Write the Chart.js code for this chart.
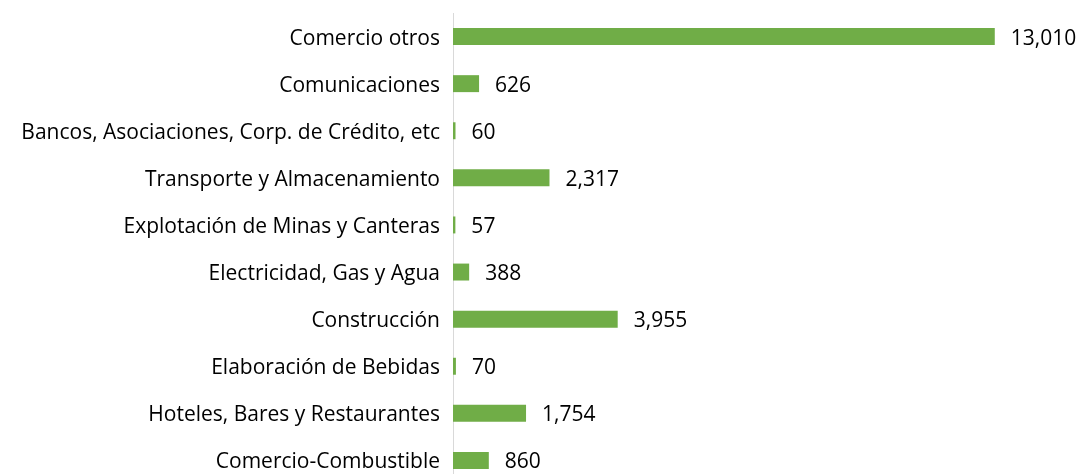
<!DOCTYPE html>
<html>
<head>
<meta charset="utf-8">
<script src="https://cdn.jsdelivr.net/npm/chart.js@4/dist/chart.umd.min.js"></script>
<style>
  html, body { margin: 0; padding: 0; background: #fff; overflow: hidden; }
  #wrap { width: 1078px; height: 490px; }
</style>
</head>
<body>
<div id="wrap"><canvas id="chart" width="1078" height="490"></canvas></div>
<script>
// --- DATA ---
const categories = [
    'Comercio otros',
    'Comunicaciones',
    'Bancos, Asociaciones, Corp. de Crédito, etc',
    'Transporte y Almacenamiento',
    'Explotación de Minas y Canteras',
    'Electricidad, Gas y Agua',
    'Construcción',
    'Elaboración de Bebidas',
    'Hoteles, Bares y Restaurantes',
    'Comercio-Combustible'
];
const values = [13010, 626, 60, 2317, 57, 388, 3955, 70, 1754, 860];

const FONT = 'Open Sans';
const FONT_SIZE = 21;

// --- VALUE LABELS ---
const valueLabels = {
    id: 'valueLabels',
    afterDatasetsDraw(chart) {
        const ctx = chart.ctx;
        const meta = chart.getDatasetMeta(0);
        ctx.save();
        ctx.font = FONT_SIZE + 'px "' + FONT + '"';
        ctx.fillStyle = '#000';
        ctx.textAlign = 'left';
        ctx.textBaseline = 'middle';
        meta.data.forEach((bar, i) => {
            ctx.fillText(values[i].toLocaleString('en-US'), bar.x + 16, bar.y + 2);
        });
        ctx.restore();
    }
};

// --- CHART ---
new Chart(document.getElementById('chart'), {
    type: 'bar',
    data: {
        labels: categories,
        datasets: [{
            data: values,
            backgroundColor: '#70ad47',
            barPercentage: 0.72,
            categoryPercentage: 0.5
        }]
    },
    options: {
        indexAxis: 'y',
        responsive: false,
        animation: false,
        layout: { padding: { top: 13, bottom: 6, left: 0, right: 42 } },
        plugins: {
            legend: { display: false },
            tooltip: { enabled: false }
        },
        scales: {
            x: {
                display: false,
                min: 0,
                max: 14000
            },
            y: {
                afterFit(scale) {
                    scale.width = 453;
                    scale.paddingTop = 0;
                    scale.paddingBottom = 0;
                },
                grid: { display: false, drawTicks: false },
                border: { display: true, color: '#d9d9d9', width: 1 },
                ticks: {
                    color: '#000',
                    padding: 13,
                    labelOffset: 2,
                    font: { family: FONT, size: FONT_SIZE }
                }
            }
        }
    },
    plugins: [valueLabels]
});
</script>
</body>
</html>
